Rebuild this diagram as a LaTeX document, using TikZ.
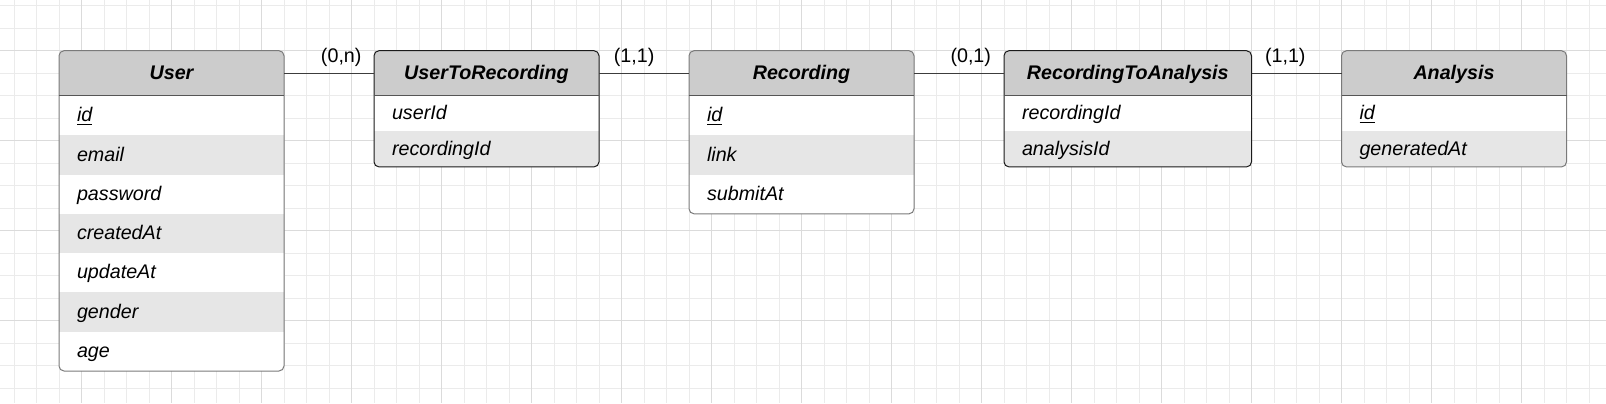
\documentclass[tikz,border=0pt]{standalone}
\usepackage{fontspec}
\setmainfont{Liberation Sans}
\usetikzlibrary{positioning}
\definecolor{headgray}{HTML}{CCCCCC}
\definecolor{rowgray}{HTML}{E6E6E6}
\definecolor{entityline}{HTML}{7A7A7A}
\definecolor{relline}{HTML}{1A1A1A}
\definecolor{sepline}{HTML}{555555}
\definecolor{linkline}{HTML}{3C3C3C}
\tikzset{
every node/.style={ % One text size for the whole diagram
inner sep=0pt, outer sep=0pt,
font=\fontsize{9.85}{12}\selectfont},
tablehead/.style={ % Grey title row of a table
fill=headgray,
minimum width=#1, minimum height=22.6pt,
font=\fontsize{9.85}{12}\selectfont\bfseries\itshape,
text height=0.8em, text depth=0.18em},
tablehead/.default=112.5pt,
attr/.style={ % One attribute row, text on the left
fill=white,
text width=#1, inner xsep=9pt, minimum height=19.65pt,
align=left,
font=\fontsize{9.85}{12}\selectfont\itshape,
text height=0.8em, text depth=0.18em},
attr/.default=94.5pt,
shaded/.style={fill=rowgray},
short/.style={minimum height=17.75pt},
entityframe/.style={draw=entityline, line width=0.5pt, rounded corners=2.5pt},
relframe/.style={draw=relline, line width=0.5pt, rounded corners=2.5pt},
headsep/.style={draw=sepline, line width=0.5pt},
link/.style={draw=linkline, line width=0.5pt},
gridminor/.style={draw=black!8, line width=0.5pt},
gridmajor/.style={draw=black!14, line width=0.5pt}}

\begin{document}
\begin{tikzpicture}[x=0.5pt, y=-0.5pt]
\useasboundingbox (0,0) rectangle (1606,403);
\fill[white] (0,0) rectangle (1606,403);
% background grid
\foreach \k in {0,...,70} \draw[gridminor] ({14+22.5*\k},0) -- ({14+22.5*\k},403);
\foreach \k in {0,...,17} \draw[gridminor] (0,{5.7+22.5*\k}) -- (1606,{5.7+22.5*\k});
\foreach \k in {3,7,...,67} \draw[gridmajor] ({14+22.5*\k},0) -- ({14+22.5*\k},403);
\foreach \k in {2,6,10,14} \draw[gridmajor] (0,{5.7+22.5*\k}) -- (1606,{5.7+22.5*\k});

\begin{scope}
\clip[rounded corners=2.5pt] (59,50.7) rectangle (284,371);
\node[tablehead, anchor=north west] (user) at (59,50.7) {User};
\node[attr, below=0pt of user] (user-id) {\underline{id}};
\node[attr, shaded, below=0pt of user-id] (user-email) {email};
\node[attr, below=0pt of user-email] (user-pass) {password};
\node[attr, shaded, below=0pt of user-pass] (user-created) {createdAt};
\node[attr, below=0pt of user-created] (user-update) {updateAt};
\node[attr, shaded, below=0pt of user-update] (user-gender) {gender};
\node[attr, below=0pt of user-gender] (user-age) {age};
\end{scope}

\begin{scope}
\clip[rounded corners=2.5pt] (374,50.7) rectangle (599,167);
\node[tablehead, anchor=north west] (utr) at (374,50.7) {UserToRecording};
\node[attr, short, below=0pt of utr] (utr-user) {userId};
\node[attr, short, shaded, below=0pt of utr-user] (utr-rec) {recordingId};
\end{scope}

\begin{scope}
\clip[rounded corners=2.5pt] (689,50.7) rectangle (914,214);
\node[tablehead, anchor=north west] (rec) at (689,50.7) {Recording};
\node[attr, below=0pt of rec] (rec-id) {\underline{id}};
\node[attr, shaded, below=0pt of rec-id] (rec-link) {link};
\node[attr, below=0pt of rec-link] (rec-submit) {submitAt};
\end{scope}

\begin{scope}
\clip[rounded corners=2.5pt] (1004,50.7) rectangle (1251.5,167);
\node[tablehead=123.75pt, anchor=north west] (rta) at (1004,50.7) {RecordingToAnalysis};
\node[attr=105.75pt, short, below=0pt of rta] (rta-rec) {recordingId};
\node[attr=105.75pt, short, shaded, below=0pt of rta-rec] (rta-ana) {analysisId};
\end{scope}

\begin{scope}
\clip[rounded corners=2.5pt] (1341.5,50.7) rectangle (1566.5,167);
\node[tablehead, anchor=north west] (ana) at (1341.5,50.7) {Analysis};
\node[attr, short, below=0pt of ana] (ana-id) {\underline{id}};
\node[attr, short, shaded, below=0pt of ana-id] (ana-gen) {generatedAt};
\end{scope}

\draw[entityframe] (user.north west) rectangle (user-age.south east);
\draw[relframe] (utr.north west) rectangle (utr-rec.south east);
\draw[entityframe] (rec.north west) rectangle (rec-submit.south east);
\draw[relframe] (rta.north west) rectangle (rta-ana.south east);
\draw[entityframe] (ana.north west) rectangle (ana-gen.south east);
\draw[headsep] (user.south west) -- (user.south east);
\draw[headsep] (utr.south west) -- (utr.south east);
\draw[headsep] (rec.south west) -- (rec.south east);
\draw[headsep] (rta.south west) -- (rta.south east);
\draw[headsep] (ana.south west) -- (ana.south east);

\draw[link] (user.east) -- (utr.west);
\draw[link] (utr.east) -- (rec.west);
\draw[link] (rec.east) -- (rta.west);
\draw[link] (rta.east) -- (ana.west);
\node[above left=3.15pt and 6.25pt of utr.west] (card-user) {(0,n)};
\node[above right=3.15pt and 7.4pt of utr.east] (card-rec) {(1,1)};
\node[above left=3.15pt and 6.5pt of rta.west] (card-rec2) {(0,1)};
\node[above right=3.15pt and 6.75pt of rta.east] (card-ana) {(1,1)};
\end{tikzpicture}
\end{document}
